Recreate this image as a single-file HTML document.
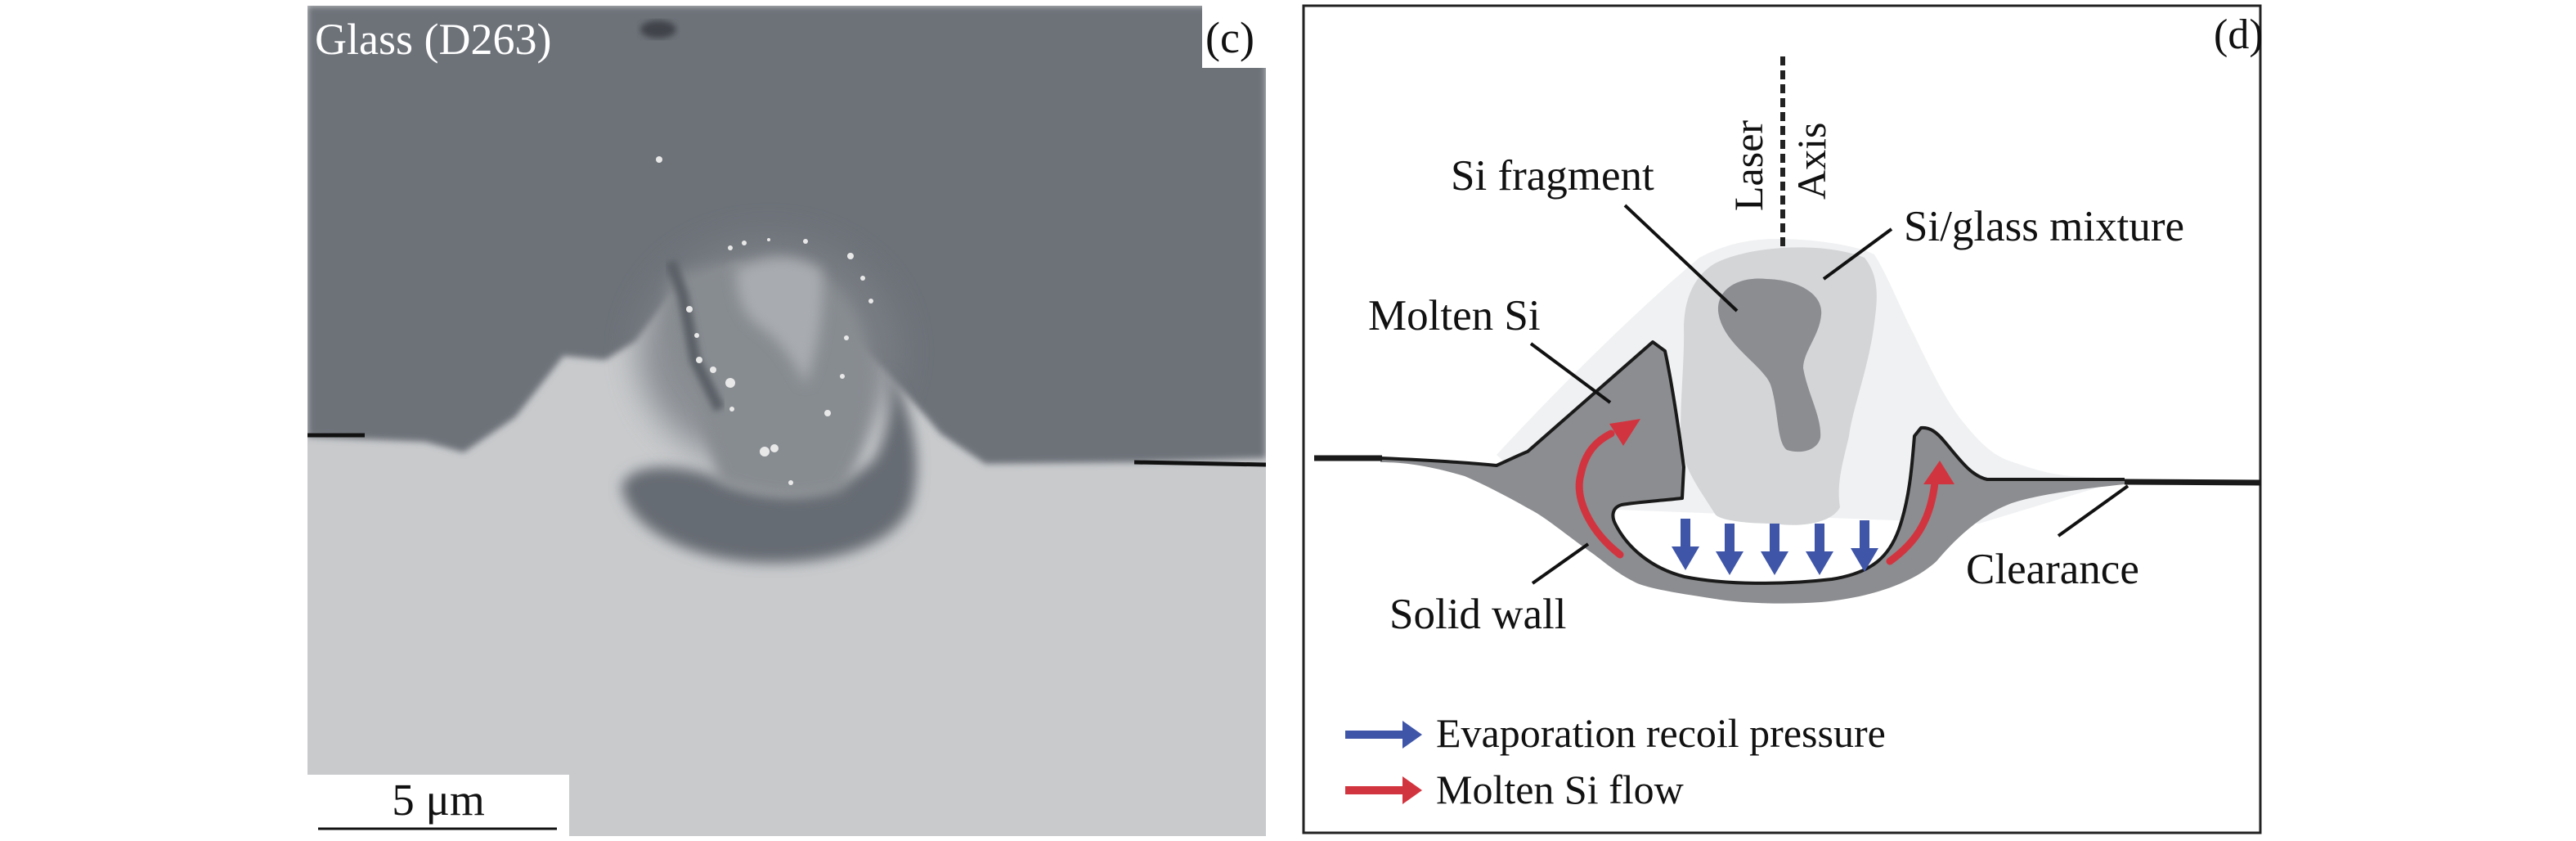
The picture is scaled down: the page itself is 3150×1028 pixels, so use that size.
<!DOCTYPE html>
<html><head><meta charset="utf-8"><style>
html,body{margin:0;padding:0;background:#fff;}
svg{display:block;}
text{font-family:"Liberation Serif",serif;}
</style></head><body>
<svg width="3150" height="1028" viewBox="0 0 3150 1028" xmlns="http://www.w3.org/2000/svg">
<defs>
<filter id="b8" x="-20%" y="-20%" width="140%" height="140%"><feGaussianBlur stdDeviation="8"/></filter>
<filter id="b20" x="-30%" y="-30%" width="160%" height="160%"><feGaussianBlur stdDeviation="20"/></filter>
<filter id="b4"><feGaussianBlur stdDeviation="4"/></filter>
<clipPath id="pc"><rect x="376" y="7" width="1172" height="1015"/></clipPath>
</defs>
<!-- Panel c -->
<g clip-path="url(#pc)">
<rect x="376" y="7" width="1172" height="1015" fill="#c8cacc"/>
<path d="M376,7 H1548 V560 L1390,565 L1205,567 L1150,530 L1133,510 L1080,450 L980,350 L900,320 L820,360 L777,417 L740,440 L689,435 L630,510 L567,553 L520,540 L376,534 Z" fill="#6d7279" filter="url(#b4)"/>
<ellipse cx="940" cy="430" rx="160" ry="140" fill="#7b8086" opacity="0.8" filter="url(#b20)"/>
<path d="M760,595 C770,565 830,565 880,585 C940,610 1020,610 1070,560 C1085,530 1095,490 1085,450 C1115,500 1130,560 1115,615 C1095,670 1010,690 935,688 C850,686 770,650 760,595Z" fill="#666c73" filter="url(#b8)"/>
<path d="M820,340 Q800,420 850,480 L880,590 Q960,620 1030,600 Q1080,520 1060,420 Q1040,330 950,315 Q870,320 820,340Z" fill="#878c91" filter="url(#b8)"/>
<path d="M900,330 Q960,300 1005,330 Q1010,400 985,470 Q960,420 930,400 Q900,380 900,330Z" fill="#a8acb0" filter="url(#b8)"/>
<path d="M820,320 L835,360 L850,440 L880,500" stroke="#5c6168" stroke-width="14" fill="none" filter="url(#b4)"/>
<g fill="#e8e8e8">
<circle cx="893" cy="303" r="3"/><circle cx="910" cy="297" r="3"/><circle cx="940" cy="293" r="2"/><circle cx="985" cy="295" r="3"/><circle cx="1040" cy="313" r="4"/><circle cx="1055" cy="340" r="3"/><circle cx="1065" cy="368" r="3"/><circle cx="1035" cy="413" r="3"/><circle cx="1030" cy="460" r="3"/><circle cx="1012" cy="505" r="4"/>
<circle cx="843" cy="378" r="4"/><circle cx="852" cy="410" r="3"/><circle cx="855" cy="440" r="4"/><circle cx="872" cy="452" r="4"/><circle cx="893" cy="468" r="6"/><circle cx="895" cy="500" r="3"/><circle cx="935" cy="552" r="6"/><circle cx="947" cy="548" r="5"/><circle cx="967" cy="590" r="3"/>
<circle cx="806" cy="195" r="4"/>
</g>
<ellipse cx="805" cy="36" rx="22" ry="11" fill="#3f4248" filter="url(#b4)"/>
<line x1="376" y1="532" x2="446" y2="532" stroke="#111" stroke-width="5"/>
<line x1="1387" y1="565" x2="1548" y2="568" stroke="#111" stroke-width="5"/>
<text x="385" y="66" font-size="54" fill="#fff">Glass (D263)</text>
<rect x="1470" y="7" width="78" height="76" fill="#fff"/>
<text x="1474" y="64" font-size="54" fill="#111">(c)</text>
<rect x="376" y="947" width="320" height="75" fill="#fff"/>
<text x="536" y="996" font-size="55" fill="#111" text-anchor="middle">5 μm</text>
<line x1="389" y1="1013" x2="681" y2="1013" stroke="#111" stroke-width="3"/>
</g>
<!-- Panel d -->
<rect x="1594" y="7" width="1170" height="1011" fill="#fff" stroke="#222" stroke-width="3"/>
<text x="2707" y="59" font-size="52" fill="#111">(d)</text>
<path d="M1830,556 C1900,480 2000,380 2078,315 C2110,298 2140,292 2174,292 C2220,292 2270,300 2292,311 C2310,340 2325,380 2341,410 C2360,450 2380,490 2399,514 C2420,540 2435,555 2456,563 C2490,575 2510,580 2533,582 L2598,586 L2420,640 L1900,620Z" fill="#f0f1f3"/>
<path d="M2097,322 C2140,300 2230,295 2280,315 C2300,340 2295,370 2292,395 C2285,450 2265,500 2261,533 C2255,560 2245,590 2250,620 C2240,640 2200,645 2170,640 C2130,640 2100,635 2097,628 C2080,600 2055,570 2055,533 C2055,480 2060,440 2059,399 C2060,360 2075,335 2097,322Z" fill="#d3d5d7"/>
<path d="M2101,380 C2100,350 2130,338 2160,341 C2200,342 2230,360 2227,385 C2225,410 2205,430 2205,450 C2210,480 2228,510 2226,535 C2222,552 2200,555 2185,550 C2172,540 2175,500 2165,470 C2155,445 2105,420 2101,380Z" fill="#8b8d91"/>
<path d="M1688,559 C1760,562 1800,566 1830,569 C1850,560 1860,555 1868,552 L2021,418 L2036,429 C2045,470 2055,540 2059,571 L2057,609 C2030,612 2000,614 1983,617 C1972,620 1970,630 1975,640 C1990,670 2020,695 2060,705 C2110,715 2180,715 2240,708 C2290,700 2310,680 2322,647 C2335,610 2338,570 2341,533 L2349,523 C2360,522 2368,528 2378,540 C2395,560 2410,582 2430,586 L2598,586 L2598,592 C2540,598 2490,605 2460,615 C2420,630 2390,660 2368,686 C2340,712 2290,730 2227,736 C2170,740 2120,736 2097,732 C2050,725 2020,720 2002,713 C1975,700 1960,685 1944,674 C1910,650 1890,632 1868,621 C1840,605 1810,590 1791,582 C1750,570 1720,565 1688,565Z" fill="#8c8d90"/>
<path d="M1688,560 C1760,563 1800,566 1830,569 C1850,560 1860,555 1868,552 L2021,418 L2036,429 C2045,470 2055,540 2059,571 L2057,609 C2030,612 2000,614 1983,617 C1972,620 1970,630 1975,640 C1990,670 2020,695 2060,705 C2110,715 2180,715 2240,708 C2290,700 2310,680 2322,647 C2335,610 2338,570 2341,533 L2349,523 C2360,522 2368,528 2378,540 C2395,560 2410,582 2430,586 L2598,586" fill="none" stroke="#1a1a1a" stroke-width="4" stroke-linejoin="round"/>
<line x1="1607" y1="560" x2="1690" y2="560" stroke="#1a1a1a" stroke-width="7"/>
<line x1="2598" y1="589" x2="2765" y2="590" stroke="#1a1a1a" stroke-width="7"/>
<line x1="2180" y1="69" x2="2180" y2="305" stroke="#222" stroke-width="6" stroke-dasharray="11,6"/>
<text transform="translate(2155,258) rotate(-90)" font-size="50" fill="#111">Laser</text>
<text transform="translate(2232,244) rotate(-90)" font-size="50" fill="#111">Axis</text>
<path d="M1981,678 C1945,650 1925,610 1933,580 C1938,555 1950,540 1970,530" fill="none" stroke="#d2343f" stroke-width="9" stroke-linecap="round"/>
<polygon points="2006,512 1968,518 1985,545" fill="#d2343f"/>
<path d="M2311,686 C2340,665 2360,640 2366,590" fill="none" stroke="#d2343f" stroke-width="9" stroke-linecap="round"/>
<polygon points="2372,563 2352,592 2390,592" fill="#d2343f"/>
<g fill="#3f55a8">
<path d="M2055,634 h12 v34 h11 l-17,29 l-17,-29 h11z"/>
<path d="M2109,640 h12 v34 h11 l-17,29 l-17,-29 h11z"/>
<path d="M2164,640 h12 v34 h11 l-17,29 l-17,-29 h11z"/>
<path d="M2219,640 h12 v34 h11 l-17,29 l-17,-29 h11z"/>
<path d="M2274,636 h12 v34 h11 l-17,29 l-17,-29 h11z"/>
</g>
<g stroke="#111" stroke-width="4">
<line x1="1987" y1="251" x2="2124" y2="380"/>
<line x1="2313" y1="280" x2="2230" y2="341"/>
<line x1="1872" y1="420" x2="1969" y2="492"/>
<line x1="1874" y1="713" x2="1942" y2="665"/>
<line x1="2517" y1="655" x2="2602" y2="594"/>
</g>
<g font-size="53" fill="#111">
<text x="1774" y="232">Si fragment</text>
<text x="2328" y="294">Si/glass mixture</text>
<text x="1673" y="403">Molten Si</text>
<text x="1699" y="768">Solid wall</text>
<text x="2404" y="713">Clearance</text>
</g>
<g font-size="50" fill="#111">
<text x="1756" y="913">Evaporation recoil pressure</text>
<text x="1756" y="982">Molten Si flow</text>
</g>
<path d="M1645,893 h70 v-12 l24,17 l-24,17 v-12 h-70z" fill="#3f55a8"/>
<path d="M1645,961 h70 v-12 l24,17 l-24,17 v-12 h-70z" fill="#d2343f"/>
</svg>
</body></html>
